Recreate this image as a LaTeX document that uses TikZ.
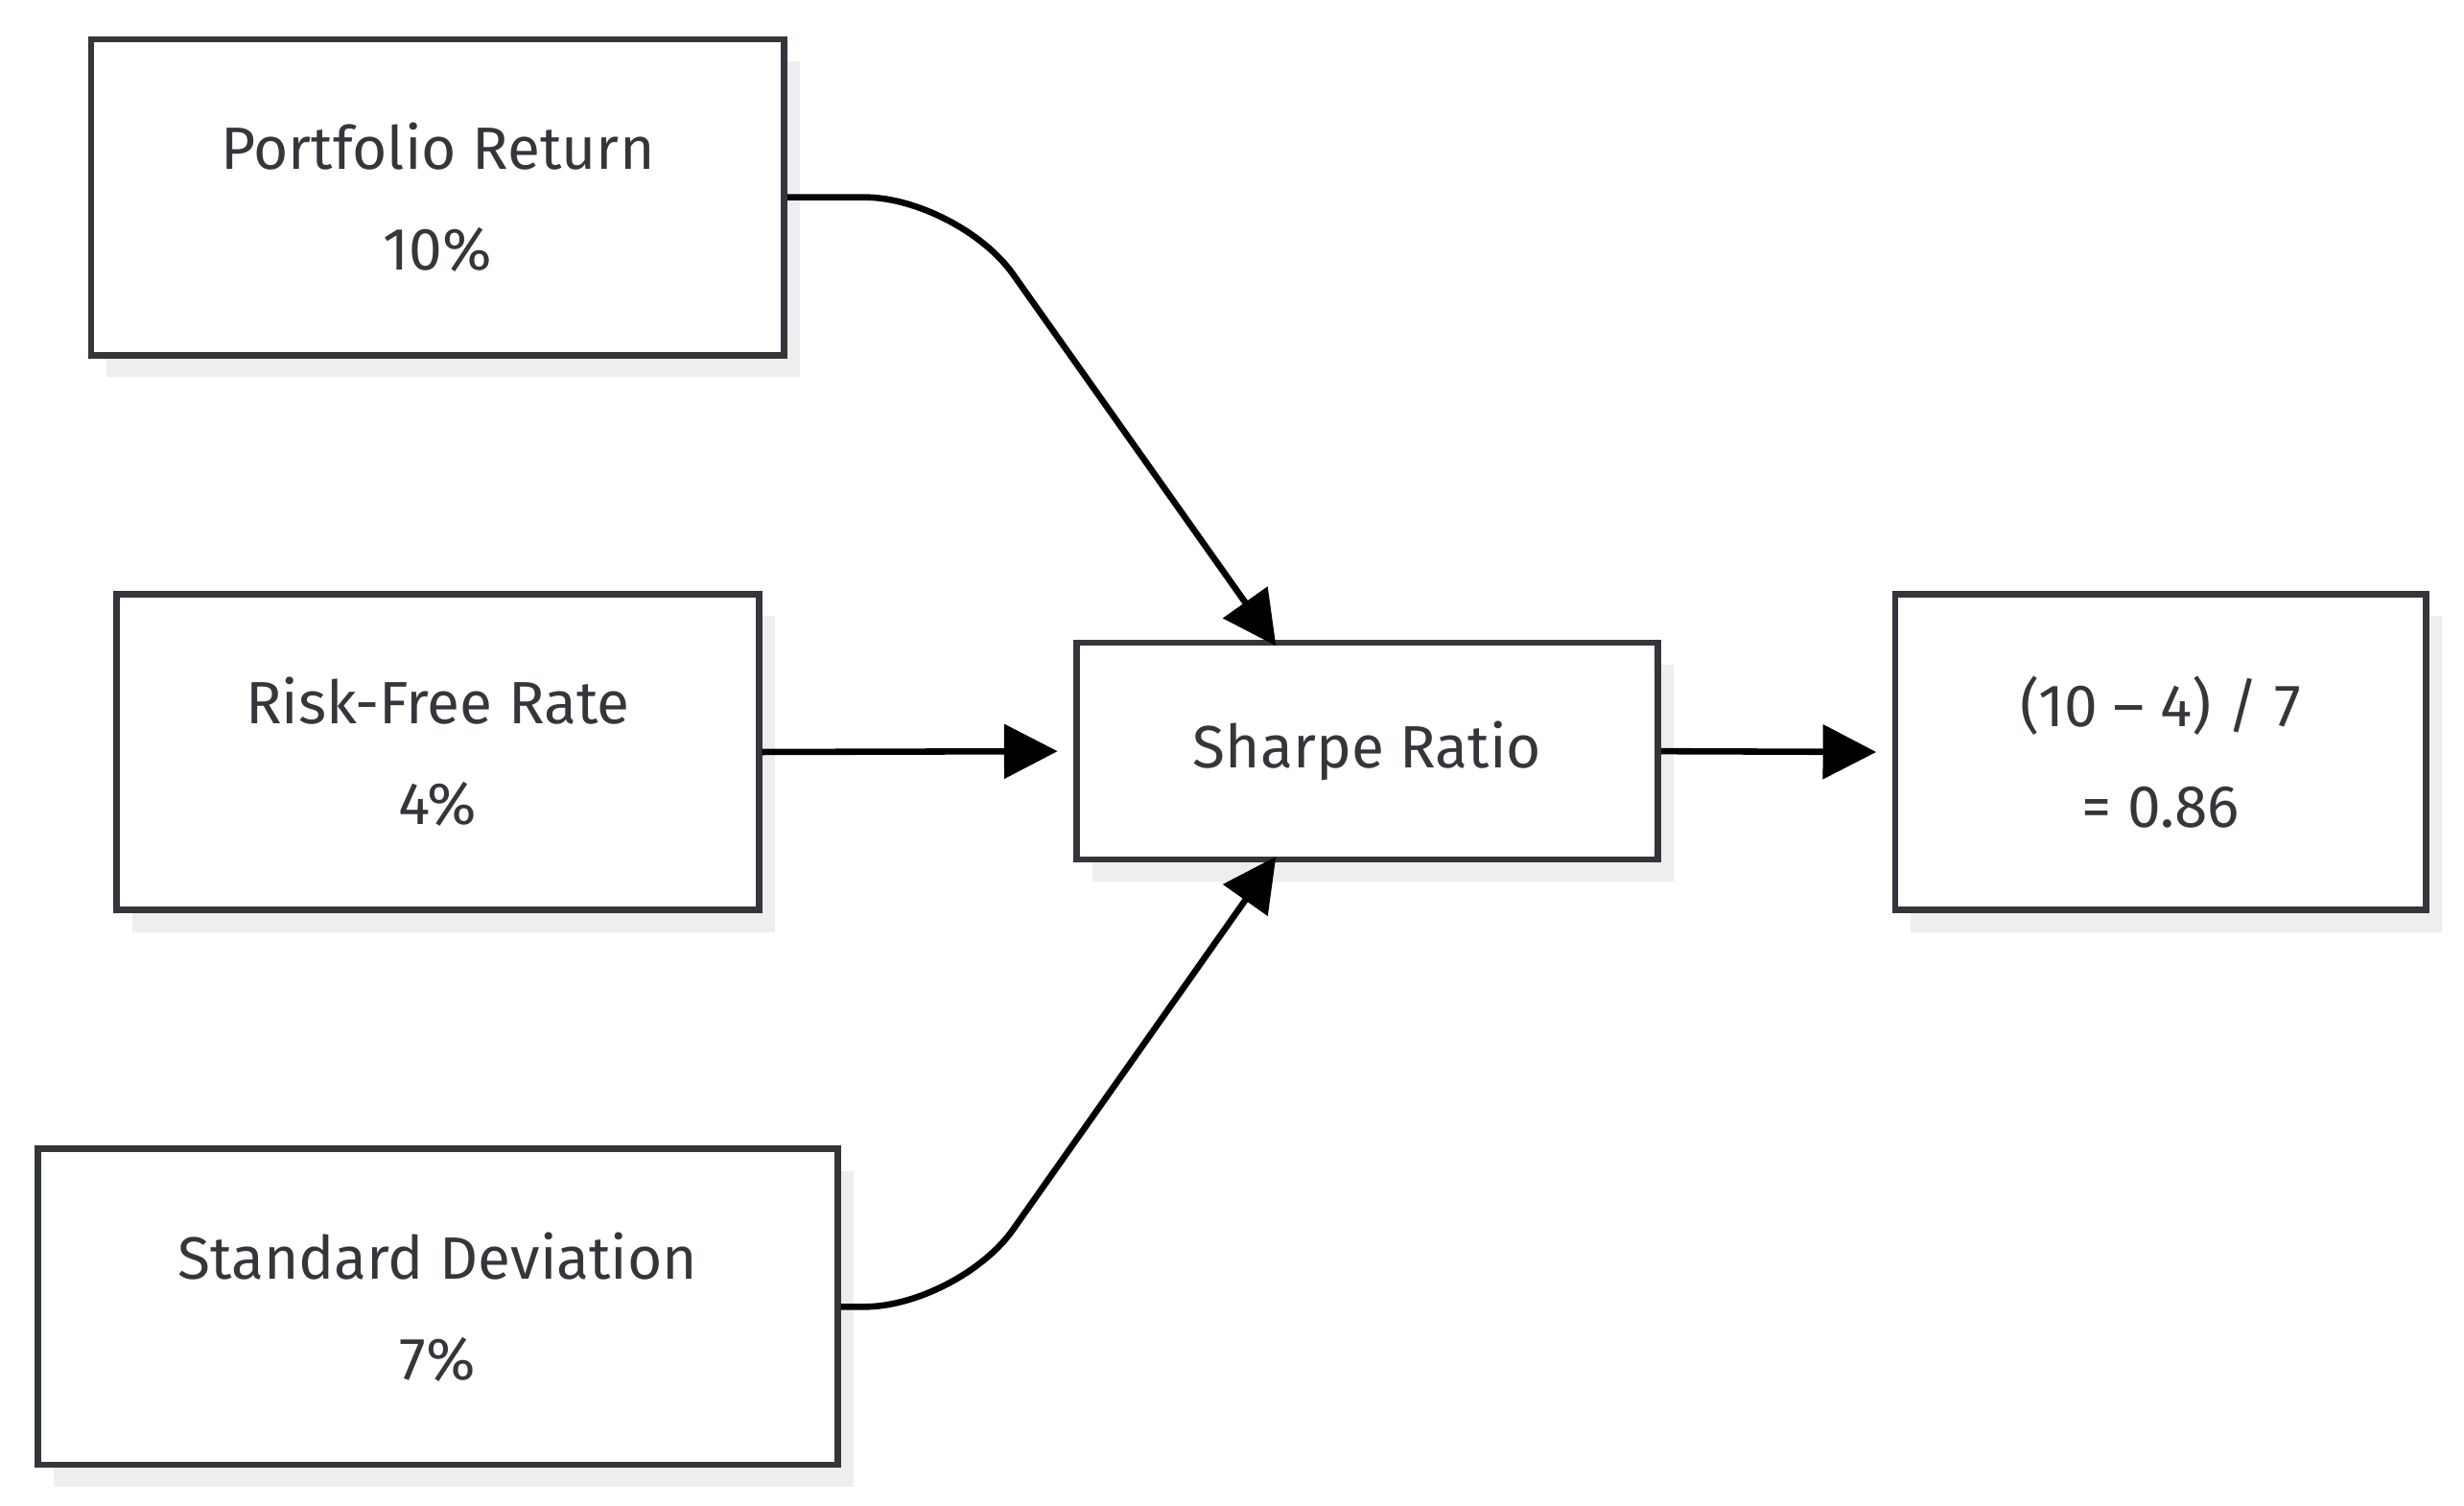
\documentclass[tikz,border=0pt]{standalone}
\usepackage{fontspec}
\setmainfont{Fira Sans}
\usetikzlibrary{arrows.meta,shadows}
\definecolor{bd}{HTML}{33373B}
\definecolor{sh}{HTML}{EEEEEE}
\begin{document}
\begin{tikzpicture}[x=1pt,y=-1pt,
  box/.style={draw=bd,line width=4pt,fill=white,align=center,text=bd,
    font=\fontsize{38}{64}\selectfont,inner sep=0pt,
    general shadow={fill=sh,draw=none,shadow xshift=10pt,shadow yshift=-14pt}},
  conn/.style={line width=4pt,black,-{Triangle[length=34pt,width=34pt]}}]
\useasboundingbox (0,0) rectangle (1568,958);
\node[box,minimum width=441pt,minimum height=201pt] (p) at (278.5,125.5) {Portfolio Return\\10\%};
\node[box,minimum width=409pt,minimum height=201pt] (r) at (278.5,478.5) {Risk-Free Rate\\4\%};
\node[box,minimum width=509pt,minimum height=201pt] (d) at (278.5,831.5) {Standard Deviation\\7\%};
\node[box,minimum width=370pt,minimum height=138pt] (s) at (870,478) {Sharpe Ratio};
\node[box,minimum width=338pt,minimum height=201pt] (o) at (1375,478.5) {(10 – 4) / 7\\= 0.86};
\draw[conn,rounded corners=60pt] (p.east) -- (610,125.5) -- ([xshift=-58pt,yshift=-4pt]s.north);
\draw[conn,rounded corners=60pt] (d.east) -- (610,831.5) -- ([xshift=-58pt,yshift=4pt]s.south);
\draw[conn] (r.east) -- ([xshift=-10pt]s.west);
\draw[conn] (s.east) -- ([xshift=-10pt]o.west);
\end{tikzpicture}
\end{document}
